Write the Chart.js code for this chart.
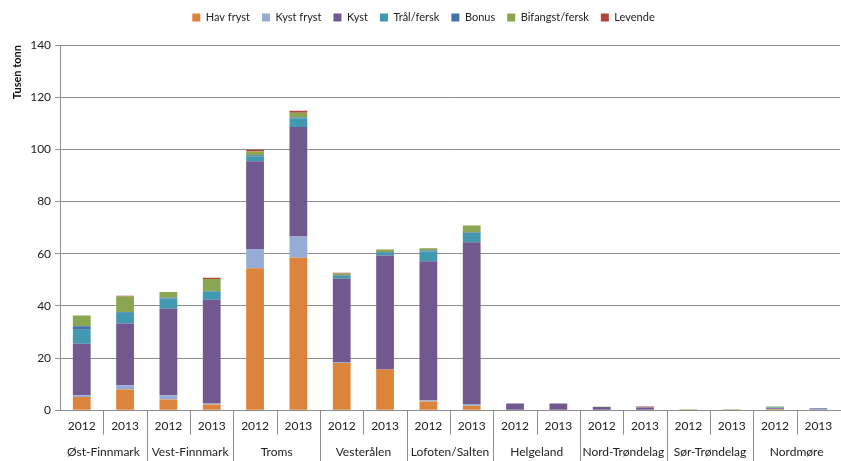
<!DOCTYPE html>
<html>
<head>
<meta charset="utf-8">
<script src="https://cdn.jsdelivr.net/npm/chart.js@4.4.1/dist/chart.umd.min.js"></script>
<style>
  html, body { margin: 0; padding: 0; background: #fff; }
  #wrap { position: relative; width: 841px; height: 461px; }
</style>
</head>
<body>
<div id="wrap"><canvas id="chart"></canvas></div>
<script>
// two years per region
const regions = ["Øst-Finnmark", "Vest-Finnmark", "Troms", "Vesterålen", "Lofoten/Salten",
  "Helgeland", "Nord-Trøndelag", "Sør-Trøndelag", "Nordmøre"];
const years = ["2012", "2013"];
const yTicks = [0, 20, 40, 60, 80, 100, 120, 140];

// Tusen tonn
const havFryst  = [5.1, 7.9, 4.1, 2.2, 54.4, 58.4, 18.1, 15.6, 3.3, 1.7, 0, 0, 0, 0, 0, 0, 0.4, 0];
const kystFryst = [0.6, 1.7, 1.6, 0.6, 7.2, 8.2, 0.2, 0, 0.5, 0.7, 0, 0, 0, 0, 0, 0, 0, 0.3];
const kyst      = [19.8, 23.6, 33.2, 39.5, 33.8, 42.0, 32.1, 43.7, 53.3, 62.0, 2.6, 2.6, 1.2, 1.0, 0.2, 0.2, 0.3, 0.3];
const tral      = [5.3, 4.2, 3.9, 3.2, 2.0, 3.3, 1.0, 1.1, 3.7, 3.5, 0, 0, 0, 0, 0, 0, 0.3, 0.1];
const bonus     = [1.4, 0.2, 0.3, 0.2, 0.3, 0.3, 0.2, 0.2, 0.4, 0.2, 0, 0, 0, 0, 0, 0, 0, 0];
const bifangst  = [4.1, 6.0, 2.2, 4.6, 1.5, 1.8, 0.8, 1.0, 0.9, 2.7, 0, 0, 0.1, 0.1, 0.2, 0.2, 0.4, 0];
const levende   = [0, 0.3, 0, 0.5, 0.6, 0.8, 0.3, 0, 0, 0, 0, 0, 0, 0.3, 0, 0, 0, 0.1];

const labels = [];
regions.forEach(() => years.forEach(y => labels.push(y)));

const FONT = "Lato, 'Open Sans', sans-serif";
const GRID = "#8e8e8e";

// separators between years (short) and regions (long) below the axis
const separators = {
  id: "separators",
  afterDraw(chart) {
    const x = chart.scales.x;
    const ctx = chart.ctx;
    const step = x.width / labels.length;
    ctx.save();
    ctx.strokeStyle = GRID;
    ctx.lineWidth = 1;
    for (let i = 1; i < labels.length; i++) {
      const px = Math.round(x.left + i * step) + 0.5;
      const bottom = i % 2 === 0 ? chart.height : x.bottom;
      ctx.beginPath();
      ctx.moveTo(px, x.top);
      ctx.lineTo(px, bottom);
      ctx.stroke();
    }
    ctx.restore();
  }
};

// a bit more room under the legend
const legendGap = {
  id: "legendGap",
  beforeInit(chart) {
    const fit = chart.legend.fit;
    chart.legend.fit = function () {
      fit.bind(chart.legend)();
      this.height += 12;
    };
  }
};

function ds(label, data, color) {
  return { label, data, backgroundColor: color, borderWidth: 0, stack: "s" };
}

new Chart(document.getElementById("chart"), {
  type: "bar",
  data: {
    labels: labels,
    datasets: [
      ds("Hav fryst", havFryst, "#dd843c"),
      ds("Kyst fryst", kystFryst, "#96acd6"),
      ds("Kyst", kyst, "#71588f"),
      ds("Trål/fersk", tral, "#4198af"),
      ds("Bonus", bonus, "#4471a8"),
      ds("Bifangst/fersk", bifangst, "#8ba650"),
      ds("Levende", levende, "#b5443f"),
    ],
  },
  options: {
    responsive: true,
    maintainAspectRatio: false,
    animation: false,
    datasets: { bar: { categoryPercentage: 1, barPercentage: 0.41 } },
    layout: { padding: { top: 0, right: 1, left: 7, bottom: 0 } },
    plugins: {
      legend: {
        position: "top",
        labels: {
          boxWidth: 8,
          boxHeight: 8,
          padding: 12,
          color: "#222",
          font: { family: FONT, size: 11 },
        },
      },
      tooltip: { enabled: false },
    },
    scales: {
      x: {
        stacked: true,
        grid: { display: false },
        border: { color: GRID },
        ticks: { color: "#222", font: { family: FONT, size: 12 }, padding: 1, maxRotation: 0, autoSkip: false },
      },
      x2: {
        type: "category",
        position: "bottom",
        labels: regions,
        offset: true,
        grid: { display: false },
        border: { display: false },
        ticks: { color: "#222", font: { family: FONT, size: 12 }, padding: 2, maxRotation: 0, autoSkip: false },
      },
      y: {
        stacked: true,
        min: 0,
        max: 140,
        afterBuildTicks(scale) { scale.ticks = yTicks.map(v => ({ value: v })); },
        grid: { color: GRID, tickLength: 5 },
        border: { color: GRID },
        ticks: { color: "#222", font: { family: FONT, size: 12 }, padding: 4 },
        title: {
          display: true,
          text: "Tusen tonn",
          align: "end",
          color: "#111",
          font: { family: FONT, size: 11, weight: "bold" },
          padding: { top: 4, bottom: 2 },
        },
      },
    },
  },
  plugins: [separators, legendGap],
});
</script>
</body>
</html>
